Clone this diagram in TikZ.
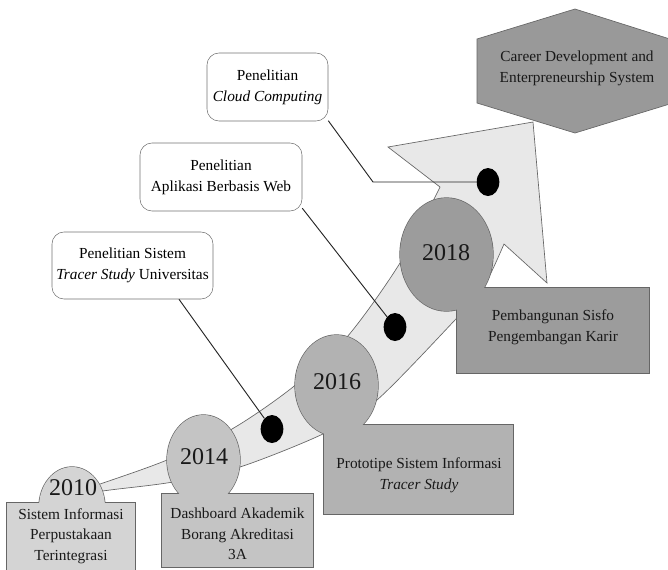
\documentclass[tikz,border=0pt]{standalone}
\usepackage{fontspec}
\setmainfont{Liberation Serif}
\usetikzlibrary{shapes.geometric}
\definecolor{bandfill}{gray}{0.91}
\definecolor{fillA}{gray}{0.83}
\definecolor{fillB}{gray}{0.77}
\definecolor{fillC}{gray}{0.70}
\definecolor{fillD}{gray}{0.61}
\definecolor{fillE}{gray}{0.60}
\tikzset{
  rim/.style={draw=black!60, line width=0.5pt},
  rimthick/.style={draw=black!60, line width=1pt},
  note/.style={draw=black!55, fill=white, rounded corners=9pt, align=center, inner sep=2pt, font=\fontsize{11.5}{15.5}\selectfont},
  info/.style={align=center, inner sep=0pt, text=black!90, font=\fontsize{11.5}{15.5}\selectfont},
  year/.style={inner sep=0pt, text=black!90, font=\fontsize{18}{20}\selectfont},
  dot/.style={ellipse, fill=black, minimum width=17pt, minimum height=21pt, inner sep=0pt},
  link/.style={draw=black!85, line width=0.7pt},
}
\begin{document}
\begin{tikzpicture}[x=0.75pt,y=-0.75pt]
    \useasboundingbox (0,0) rectangle (668,569);
    % curved arrow
    \draw[rim, fill=bandfill] plot[smooth] coordinates {(75,492) (103,483) (167,460) (232,429) (293,387) (347,337) (400,263) (440,187)}
        -- (388,147) -- (533,122) -- (547,283)
        -- plot[smooth] coordinates {(504,244) (483,288) (455,320) (377,400) (325,433) (240,467) (173,482) (110,490) (75,495)} -- cycle;
    % goal
    \draw[rim, fill=fillE] (575,9) -- (673,40) -- (673,103) -- (575,133) -- (477,103) -- (477,39) -- cycle;
    \node[info] (career) at (577,68) {Career Development and\\Enterpreneurship System};
    % milestones
    \draw[rimthick, fill=fillA] (72,507) ellipse [x radius=33, y radius=40];
    \draw[rimthick] (7,503) rectangle (135,575);
    \fill[fillA] (72,507) ellipse [x radius=33, y radius=40];
    \fill[fillA] (7,503) rectangle (135,575);
    \draw[rimthick, fill=fillB] (203.5,460) ellipse [x radius=36.5, y radius=45];
    \draw[rimthick] (162,494) rectangle (313,567);
    \fill[fillB] (203.5,460) ellipse [x radius=36.5, y radius=45];
    \fill[fillB] (162,494) rectangle (313,567);
    \draw[rimthick, fill=fillC] (336.5,385.5) ellipse [x radius=41.5, y radius=50.5];
    \draw[rimthick] (324,425) rectangle (513,514);
    \fill[fillC] (336.5,385.5) ellipse [x radius=41.5, y radius=50.5];
    \fill[fillC] (324,425) rectangle (513,514);
    \draw[rimthick, fill=fillD] (446.5,254.5) ellipse [x radius=46.5, y radius=56.5];
    \draw[rimthick] (457,288) rectangle (649,373);
    \fill[fillD] (446.5,254.5) ellipse [x radius=46.5, y radius=56.5];
    \fill[fillD] (457,288) rectangle (649,373);
    \node[year] (y2010) at (73,488) {2010};
    \node[year] (y2014) at (204,457) {2014};
    \node[year] (y2016) at (337,382) {2016};
    \node[year] (y2018) at (446,253) {2018};
    \node[info] (m2010) at (71,536) {Sistem Informasi\\Perpustakaan\\Terintegrasi};
    \node[info] (m2014) at (237.5,534) {Dashboard Akademik\\Borang Akreditasi\\3A};
    \node[info] (m2016) at (419,475) {Prototipe Sistem Informasi\\\textit{Tracer Study}};
    \node[info] (m2018) at (553,327.5) {Pembangunan Sisfo\\Pengembangan Karir};
    % research notes
    \node[note, minimum width=90.75pt, minimum height=51pt] (cloud) at (267.5,87) {Penelitian\\\textit{Cloud Computing}};
    \node[note, minimum width=121.5pt, minimum height=51pt] (web) at (221,177) {Penelitian\\Aplikasi Berbasis Web};
    \node[note, minimum width=120.75pt, minimum height=50.25pt] (tracer) at (132.5,265.5) {Penelitian Sistem\\\textit{Tracer Study} Universitas};
    \coordinate (bend) at (373,182);
    \node[dot] (d1) at (272,429) {};
    \node[dot] (d2) at (395,327) {};
    \node[dot] (d3) at (488,182) {};
    \draw[link] (tracer.-36) -- (d1);
    \draw[link] (web.-21.5) -- (d2);
    \draw[link] (cloud.-29) -- (bend) -- (d3);
\end{tikzpicture}
\end{document}
